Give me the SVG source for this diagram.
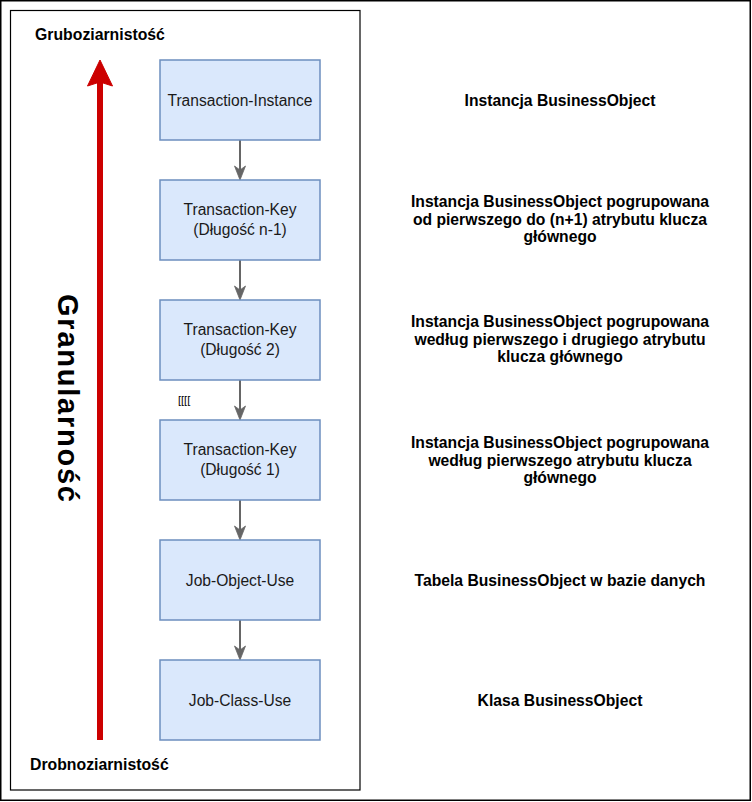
<svg xmlns="http://www.w3.org/2000/svg" width="752" height="802" viewBox="0 0 752 802">
<style>
  .box { fill: #dae8fc; stroke: #6c8ebf; stroke-width: 1.5; }
  .bt { font-family: "Liberation Sans", Arial, sans-serif; font-size: 15.6px; fill: #1a1a1a; text-anchor: middle; }
  .rt { font-family: "Liberation Sans", Arial, sans-serif; font-size: 15.7px; font-weight: bold; fill: #000; text-anchor: middle; }
  .lbl { font-family: "Liberation Sans", Arial, sans-serif; font-size: 15.8px; font-weight: bold; fill: #000; }
  .conn { stroke: #666666; stroke-width: 2; fill: none; marker-end: url(#ah); }
</style>
<defs>
  <marker id="ah" markerUnits="userSpaceOnUse" markerWidth="16" markerHeight="14" viewBox="0 0 16 14" refX="5" refY="7" orient="auto">
    <path d="M1,1.5 L5,7 L1,12.5 L15,7 Z" fill="#666666" stroke="#666666" stroke-width="0.8" stroke-linejoin="miter"/>
  </marker>
</defs>
<rect x="0.75" y="0.75" width="749.5" height="799.5" fill="#ffffff" stroke="#000" stroke-width="1.5"/>
<rect x="10.5" y="10.5" width="349.5" height="779.5" fill="none" stroke="#000" stroke-width="1.2"/>

<g id="granularity-arrow">
  <line x1="100" y1="740" x2="100" y2="82" stroke="#cc0000" stroke-width="6"/>
  <path d="M100,60 L112.5,86 L100,82 L87.5,86 Z" fill="#cc0000" stroke="#cc0000" stroke-width="1"/>
</g>
<g id="label-granularnosc">
  <text x="0" y="0" transform="translate(58,398) rotate(90)" font-family="'Liberation Sans', Arial, sans-serif" font-size="29" font-weight="bold" fill="#000" text-anchor="middle" textLength="208" lengthAdjust="spacing">Granularność</text>
</g>
<g id="label-top"><text class="lbl" x="35" y="40">Gruboziarnistość</text></g>
<g id="label-bottom"><text class="lbl" x="30" y="770">Drobnoziarnistość</text></g>

<g id="connectors">
  <path class="conn" d="M240,140 L240,170"/>
  <path class="conn" d="M240,260 L240,290"/>
  <path class="conn" d="M240,380 L240,410"/>
  <path class="conn" d="M240,500 L240,530"/>
  <path class="conn" d="M240,620 L240,650"/>
  <text x="178" y="404" font-family="'Liberation Sans', Arial, sans-serif" font-size="11" fill="#000">[[[[</text>
</g>

<g id="node-transaction-instance">
  <rect class="box" x="160" y="60" width="160" height="80"/>
  <text class="bt" x="240" y="105.5">Transaction-Instance</text>
</g>
<g id="node-transaction-key-n1">
  <rect class="box" x="160" y="180" width="160" height="80"/>
  <text class="bt" x="240" y="215">Transaction-Key</text>
  <text class="bt" x="240" y="235">(Długość n-1)</text>
</g>
<g id="node-transaction-key-2">
  <rect class="box" x="160" y="300" width="160" height="80"/>
  <text class="bt" x="240" y="335">Transaction-Key</text>
  <text class="bt" x="240" y="355">(Długość 2)</text>
</g>
<g id="node-transaction-key-1">
  <rect class="box" x="160" y="420" width="160" height="80"/>
  <text class="bt" x="240" y="455">Transaction-Key</text>
  <text class="bt" x="240" y="475">(Długość 1)</text>
</g>
<g id="node-job-object-use">
  <rect class="box" x="160" y="540" width="160" height="80"/>
  <text class="bt" x="240" y="585.5">Job-Object-Use</text>
</g>
<g id="node-job-class-use">
  <rect class="box" x="160" y="660" width="160" height="80"/>
  <text class="bt" x="240" y="705.5">Job-Class-Use</text>
</g>

<g id="desc-1"><text class="rt" x="560" y="105.5">Instancja BusinessObject</text></g>
<g id="desc-2">
  <text class="rt" x="560" y="207">Instancja BusinessObject pogrupowana</text>
  <text class="rt" x="560" y="224.5">od pierwszego do (n+1) atrybutu klucza</text>
  <text class="rt" x="560" y="242">głównego</text>
</g>
<g id="desc-3">
  <text class="rt" x="560" y="327">Instancja BusinessObject pogrupowana</text>
  <text class="rt" x="560" y="344.5">według pierwszego i drugiego atrybutu</text>
  <text class="rt" x="560" y="362">klucza głównego</text>
</g>
<g id="desc-4">
  <text class="rt" x="560" y="448">Instancja BusinessObject pogrupowana</text>
  <text class="rt" x="560" y="465.5">według pierwszego atrybutu klucza</text>
  <text class="rt" x="560" y="483">głównego</text>
</g>
<g id="desc-5"><text class="rt" x="560" y="585.5">Tabela BusinessObject w bazie danych</text></g>
<g id="desc-6"><text class="rt" x="560" y="705.5">Klasa BusinessObject</text></g>
</svg>
